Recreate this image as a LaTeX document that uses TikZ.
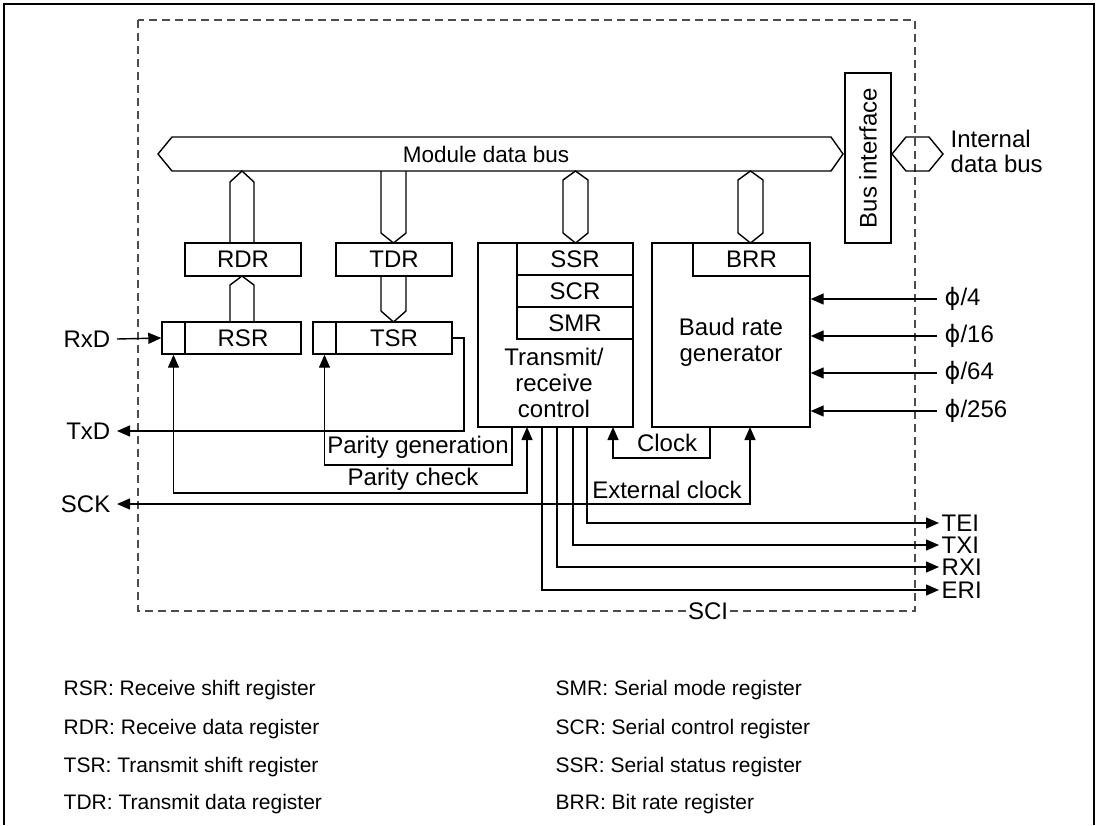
\documentclass[tikz,border=0pt]{standalone}
\usepackage{fontspec}
\setmainfont{Liberation Sans}
\newfontfamily\symfont{DejaVu Sans}
\usetikzlibrary{arrows.meta,calc}
\newcommand{\ph}{{\symfont ϕ}}
\begin{document}
\begin{tikzpicture}[x=1pt,y=-1pt,line width=1.4pt,
  every node/.style={font=\fontsize{24}{26}\selectfont,inner sep=0pt},
  reg/.style={draw,fill=white},
  arr/.style={-{Triangle[length=13pt,width=11pt]}},
  arrtwo/.style={{Triangle[length=13pt,width=11pt]}-{Triangle[length=13pt,width=11pt]}},
  sci/.style={dashed,dash pattern=on 8pt off 5pt,draw=black!70,line width=1.3pt},
  lbl/.style={anchor=west},
  rlbl/.style={anchor=east},
  legend/.style={anchor=west,font=\fontsize{21}{24}\selectfont}]
\useasboundingbox (0,0) rectangle (1098,825);
% outer frame
\draw[line width=2pt] (4,825) -- (4,4) -- (1094,4) -- (1094,825);
% SCI dashed boundary
\draw[sci] (138,20) rectangle (915,611);
\node[fill=white,inner xsep=1pt,inner ysep=2pt] (scilbl) at (708,611) {SCI};
% Module data bus
\draw (158,154) -- (172,137) -- (831,137) -- (843,154) -- (831,171) -- (172,171) -- cycle;
\node[font=\fontsize{22.5}{25}\selectfont] (mdb) at (486,154) {Module data bus};
% Bus interface
\node[reg,minimum width=46,minimum height=170] (busif) at (868,158) {};
\node[rotate=90] (busiftext) at (868,158) {Bus interface};
% Internal data bus
\draw (892,154) -- (906,137) -- (929,137) -- (943,154) -- (929,171) -- (906,171) -- cycle;
\node[lbl,align=left] (idb) at (950,151) {Internal\\[-1pt]data bus};
% registers
\node[reg,minimum width=116,minimum height=33] (rdr) at (243,259.5) {RDR};
\node[reg,minimum width=23,minimum height=32] (rsrb) at (173.5,338) {};
\node[reg,minimum width=116,minimum height=32] (rsr) at (243,338) {RSR};
\node[reg,minimum width=116,minimum height=33] (tdr) at (394,259.5) {TDR};
\node[reg,minimum width=23,minimum height=32] (tsrb) at (324.5,338) {};
\node[reg,minimum width=116,minimum height=32] (tsr) at (394,338) {TSR};
% transmit/receive control
\node[reg,minimum width=155,minimum height=184] (trc) at (555.5,335) {};
\node[reg,minimum width=116,minimum height=32] (ssr) at (575,259) {SSR};
\node[reg,minimum width=116,minimum height=32] (scr) at (575,291) {SCR};
\node[reg,minimum width=116,minimum height=32] (smr) at (575,323) {SMR};
\node[align=center] (trctext) at (554,383) {Transmit/\\receive\\control};
% baud rate generator
\node[reg,minimum width=158,minimum height=184] (brg) at (731,335) {};
\node[reg,minimum width=117,minimum height=33] (brr) at (751.5,259.5) {BRR};
\node[align=center] (brgtext) at (731,342.5) {Baud rate\\generator};
% vertical bus connectors
\draw (230,243) -- (230,182) -- (242,171) -- (254,182) -- (254,243);
\draw (230,322) -- (230,285) -- (242,276) -- (254,285) -- (254,322);
\draw (381,171) -- (381,233) -- (393.5,243) -- (406,233) -- (406,171);
\draw (381,276) -- (381,311) -- (393.5,322) -- (406,311) -- (406,276);
\draw (575.5,171) -- (588,180) -- (588,233) -- (575.5,243) -- (563,233) -- (563,180) -- cycle;
\draw (750.5,171) -- (763,180) -- (763,233) -- (750.5,243) -- (738,233) -- (738,180) -- cycle;
% left pins
\node[rlbl] (rxd) at (111,339) {RxD};
\node[rlbl] (txd) at (111,431) {TxD};
\node[rlbl] (sck) at (111,504) {SCK};
% taps on the lower edges
\coordinate (tpg) at (512,427);
\coordinate (tpc) at (527,427);
\coordinate (teri) at (542,427);
\coordinate (trxi) at (557,427);
\coordinate (ttxi) at (573,427);
\coordinate (ttei) at (587,427);
\coordinate (tclk) at (613,427);
\coordinate (bclk) at (710,427);
\coordinate (bext) at (750,427);
% connectors
\draw[arr] ([xshift=6pt]rxd.east) -- (rsrb.west);
\draw[arr] (tsr.east) -- (464,338) -- (464,431) -- ([xshift=6pt]txd.east);
\draw[arr] (tpg) -- (512,465) -- (324.5,465) -- (tsrb.south);
\draw[arrtwo] (rsrb.south) -- (173.5,493) -- (527,493) -- (tpc);
\draw[arrtwo] ([xshift=6pt]sck.east) -- (750,504) -- (bext);
\draw[arr] (bclk) -- (710,458) -- (613,458) -- (tclk);
\node (pgl) at (418,447) {Parity generation};
\node (pcl) at (413,479) {Parity check};
\node (ckl) at (667,443) {Clock};
\node (ecl) at (667,490) {External clock};
% interrupt outputs
\node[lbl] (tei) at (941,523) {TEI};
\node[lbl] (txi) at (941,545) {TXI};
\node[lbl] (rxi) at (941,567) {RXI};
\node[lbl] (eri) at (941,590) {ERI};
\draw[arr] (ttei) |- ([xshift=-2pt]tei.west);
\draw[arr] (ttxi) |- ([xshift=-2pt]txi.west);
\draw[arr] (trxi) |- ([xshift=-2pt]rxi.west);
\draw[arr] (teri) |- ([xshift=-2pt]eri.west);
% clock inputs
\node[lbl] (p4) at (944,299) {\ph/4};
\node[lbl] (p16) at (944,336) {\ph/16};
\node[lbl] (p64) at (944,373) {\ph/64};
\node[lbl] (p256) at (944,411) {\ph/256};
\draw[arr] ([xshift=-7pt]p4.west) -- (brg.east |- p4.west);
\draw[arr] ([xshift=-7pt]p16.west) -- (brg.east |- p16.west);
\draw[arr] ([xshift=-7pt]p64.west) -- (brg.east |- p64.west);
\draw[arr] ([xshift=-7pt]p256.west) -- (brg.east |- p256.west);
% legend
\node[legend] (l1) at (63,690) {RSR: Receive shift register};
\node[legend] (l2) at (63,729) {RDR: Receive data register};
\node[legend] (l3) at (63,767) {TSR: Transmit shift register};
\node[legend] (l4) at (63,804) {TDR: Transmit data register};
\node[legend] (r1) at (555,690) {SMR: Serial mode register};
\node[legend] (r2) at (555,729) {SCR: Serial control register};
\node[legend] (r3) at (555,767) {SSR: Serial status register};
\node[legend] (r4) at (555,804) {BRR: Bit rate register};
\end{tikzpicture}
\end{document}
